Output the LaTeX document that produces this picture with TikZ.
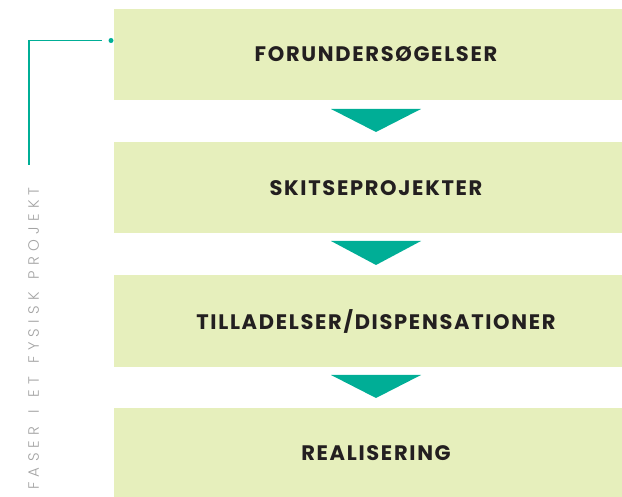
\documentclass[tikz,border=0pt]{standalone}
\usepackage{fontspec}
\setmainfont{Poppins}
\newfontfamily\boldwide{Poppins}[LetterSpace=8]
\newfontfamily\thinfont{Poppins Light}[LetterSpace=35]
\usetikzlibrary{positioning}
\definecolor{boxgreen}{HTML}{E6EFBC}
\definecolor{teal}{HTML}{00AE96}
\definecolor{txtdark}{HTML}{231F20}
\definecolor{txtgray}{HTML}{A4A4A4}
\tikzset{
  phase/.style={fill=boxgreen, draw=none, minimum width=508pt, minimum height=91pt, inner sep=0pt, anchor=north west},
  phaselabel/.style={font=\boldwide\bfseries\fontsize{21}{23}\selectfont, text=txtdark, inner sep=0pt},
  arrowtri/.style={fill=teal, draw=none}
}
\begin{document}
\begin{tikzpicture}[x=1pt,y=-1pt]
\useasboundingbox (0,0) rectangle (622,497);
\node[phase] (b1) at (114,9) {};
\node[phase] (b2) at (114,142) {};
\node[phase, minimum height=92pt] (b3) at (114,275) {};
\node[phase, minimum height=90pt] (b4) at (114,408) {};
\node[phaselabel] (t1) at (376,54.5) {FORUNDERSØGELSER};
\node[phaselabel] (t2) at (376,188) {SKITSEPROJEKTER};
\node[phaselabel] (t3) at (376,321) {TILLADELSER/DISPENSATIONER};
\node[phaselabel] (t4) at (376,453) {REALISERING};
\fill[arrowtri] (331,109) -- (421,109) -- (376,132) -- cycle;
\fill[arrowtri] (331,241) -- (421,241) -- (376,265) -- cycle;
\fill[arrowtri] (331,375) -- (421,375) -- (376,398) -- cycle;
\coordinate (lb) at (29,165);
\coordinate (lc) at (29,40.5);
\coordinate (le) at (102,40.5);
\node[circle, fill=teal, inner sep=0pt, minimum size=5pt] (dot) at (111,40.5) {};
\draw[teal, line width=1.3pt] (lb) -- (lc) -- (le);
\node[rotate=90, text=txtgray, font=\thinfont\fontsize{15}{16}\selectfont, inner sep=0pt] (vt) at (33.5,338.5) {FASER\hspace{13pt}I\hspace{13pt}ET\hspace{13pt}FYSISK\hspace{13pt}PROJEKT};
\end{tikzpicture}
\end{document}
